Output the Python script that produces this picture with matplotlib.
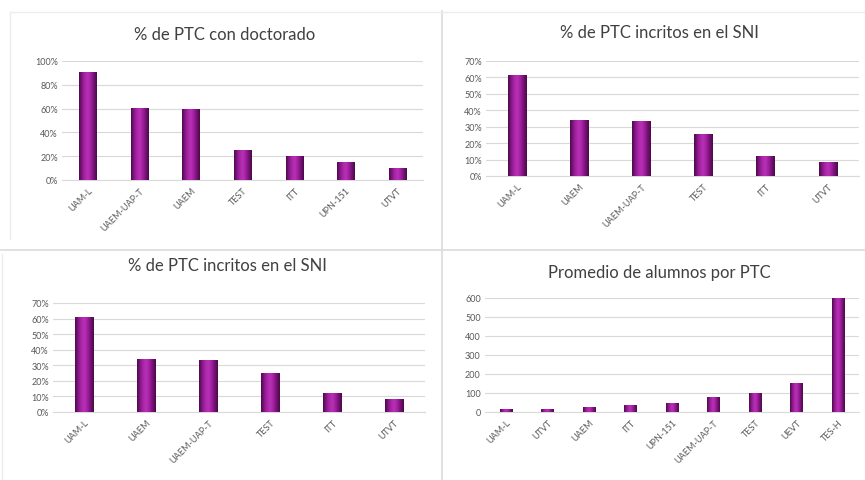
import matplotlib
matplotlib.use("Agg")
import matplotlib.pyplot as plt
import numpy as np
from matplotlib.colors import LinearSegmentedColormap
from matplotlib.lines import Line2D

plt.rcParams['font.family'] = ['Lato', 'DejaVu Sans']

# Data
doc_cats = ["UAM-L", "UAEM-UAP-T", "UAEM", "TEST", "ITT", "UPN-151", "UTVT"]
doc_vals = [0.90, 0.60, 0.59, 0.25, 0.20, 0.15, 0.10]

sni_cats = ["UAM-L", "UAEM", "UAEM-UAP-T", "TEST", "ITT", "UTVT"]
sni_vals = [0.61, 0.34, 0.33, 0.25, 0.12, 0.08]

alu_cats = ["UAM-L", "UTVT", "UAEM", "ITT", "UPN-151", "UAEM-UAP-T", "TEST", "UEVT", "TES-H"]
alu_vals = [12, 15, 25, 35, 45, 75, 100, 150, 595]

W, H = 865, 481
fig = plt.figure(figsize=(W / 100, H / 100), dpi=100)
fig.patch.set_facecolor('white')

cmap = LinearSegmentedColormap.from_list(
    'cyl', ['#4a0a48', '#861887', '#ab26a9', '#b832b6', '#a01e9e', '#741274', '#4a0a48'])
grad = np.linspace(0, 1, 64).reshape(1, -1)

GRID = '#d9d9d9'
TXT = '#595959'


def ax_rect(x0, x1, ytop, ybot):
    return [x0 / W, 1 - ybot / H, (x1 - x0) / W, (ybot - ytop) / H]


def panel(rect, cats, vals, ymax, ystep, pct, title, title_xy, width):
    ax = fig.add_axes(ax_rect(*rect))
    n = len(cats)
    x = np.arange(n)
    bars = ax.bar(x, vals, width=width, color='none', edgecolor='none', zorder=3)
    for b in bars:
        ax.imshow(grad, cmap=cmap, aspect='auto', interpolation='bicubic',
                  extent=(b.get_x(), b.get_x() + b.get_width(), 0, b.get_height()),
                  zorder=3)
    ax.set_xlim(-0.5, n - 0.5)
    ax.set_ylim(0, ymax)
    ticks = np.arange(0, ymax + ystep / 2, ystep)
    ax.set_yticks(ticks)
    if pct:
        ax.set_yticklabels([f"{int(round(t * 100))}%" for t in ticks])
    else:
        ax.set_yticklabels([f"{int(t)}" for t in ticks])
    ax.set_xticks(x)
    ax.set_xticklabels(cats, rotation=45, ha='right', rotation_mode='anchor')
    ax.tick_params(axis='both', length=0, labelsize=6.5, colors=TXT, pad=3)
    ax.tick_params(axis='x', pad=4)
    ax.grid(axis='y', color=GRID, lw=0.8, zorder=0)
    ax.set_axisbelow(True)
    for s in ['top', 'right', 'left']:
        ax.spines[s].set_visible(False)
    ax.spines['bottom'].set_color(GRID)
    ax.spines['bottom'].set_linewidth(0.8)
    ax.set_facecolor('none')
    fig.text(title_xy[0] / W, 1 - title_xy[1] / H, title, ha='center', va='center',
             fontsize=12, color='#404040')
    return ax


panel((62, 423, 62, 181), doc_cats, doc_vals, 1.0, 0.2, True,
      "% de PTC con doctorado", (225, 35), 0.33)
panel((486, 859, 62, 177), sni_cats, sni_vals, 0.7, 0.1, True,
      "% de PTC incritos en el SNI", (659, 33), 0.3)
panel((53, 425, 304, 413), sni_cats, sni_vals, 0.7, 0.1, True,
      "% de PTC incritos en el SNI", (227, 266), 0.3)
panel((485, 859, 299, 413), alu_cats, alu_vals, 600, 100, False,
      "Promedio de alumnos por PTC", (659, 273), 0.3)

# panel borders / dividers
def line(xs, ys, c='#dcdcdc', lw=1.2):
    fig.add_artist(Line2D([x / W for x in xs], [1 - y / H for y in ys], color=c, lw=lw))

line([442, 442], [12, 481])
line([0, 865], [251, 251])
line([10, 865], [13, 13], c='#ececec', lw=1)
line([10, 10], [13, 240], c='#ececec', lw=1)
line([2, 2], [255, 481], c='#ececec', lw=1)

fig.savefig('out.png', dpi=100, facecolor='white')
